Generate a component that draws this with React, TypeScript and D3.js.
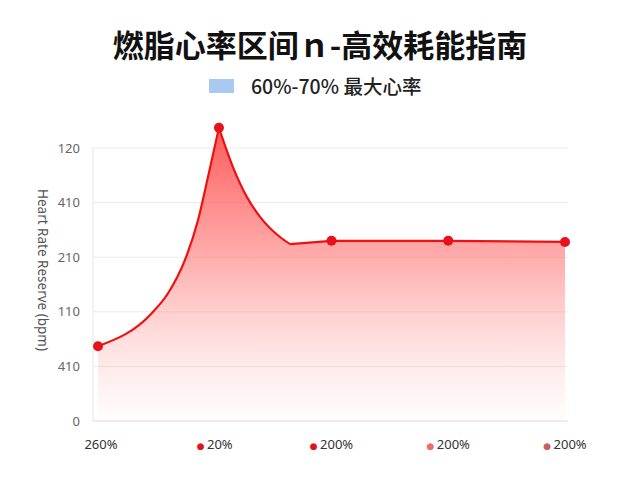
import * as d3 from "d3";

// x positions are category units (0..4), y values in the chart's own units
const pointX = [0, 0.463, 0.6, 0.745, 0.857, 0.942, 1.036, 1.156, 1.276, 1.388, 1.559, 1.645, 2, 3, 4];
const pointY = [137, 198, 234, 295, 368, 447, 537, 465, 410, 374, 337, 324, 330, 330, 328];
const markerIndex = [0, 6, 12, 13, 14];
const peakIndex = 6;
const kinkIndex = 11;

const xLabels = ["260%", "20%", "200%", "200%", "200%"];
const xDotColors = ["none", "#e0141b", "#e0141b", "#ef6b6b", "#c9605a"];
const yTicks = [0, 100, 200, 300, 400, 500];
const yTickLabels = ["0", "410", "110", "210", "410", "120"];

const title = "燃脂心率区间ｎ-高效耗能指南";
const legendLabel = "60%-70% 最大心率";
const yTitle = "Heart Rate Reserve (bpm)";

function App() {
  const width = 640;
  const height = 480;
  const left = 93;
  const right = 568;
  const top = 148;
  const bottom = 421;

  const x = d3.scaleLinear().domain([0, 4]).range([98, 565]);
  const y = d3.scaleLinear().domain([0, 500]).range([bottom, top]);

  const pts: [number, number][] = pointX.map((d, i) => [d, pointY[i]]);
  const rising = pts.slice(0, peakIndex + 1);
  const falling = pts.slice(peakIndex, kinkIndex + 1);
  const flat = pts.slice(kinkIndex);

  const smooth = d3
    .line<[number, number]>()
    .x((d) => x(d[0]))
    .y((d) => y(d[1]))
    .curve(d3.curveMonotoneX);
  const straight = d3
    .line<[number, number]>()
    .x((d) => x(d[0]))
    .y((d) => y(d[1]));
  const risingPath = smooth(rising) ?? "";
  const fallingPath = smooth(falling) ?? "";
  const flatPath = straight(flat) ?? "";

  // area: stitch the three segments and close down to baseline
  const areaPath =
    risingPath +
    fallingPath.replace(/^M[^CL]*/, "") +
    flatPath.replace(/^M[^L]*/, "") +
    `L${x(4)},${y(0)}L${x(0)},${y(0)}Z`;

  const font = "'Noto Sans', 'DejaVu Sans', sans-serif";
  const cjk = "'Noto Sans CJK SC', 'Noto Sans', sans-serif";

  return (
    <svg
      width={width}
      height={height}
      style={{ position: "fixed", left: 0, top: 0, background: "#fff" }}
    >
      <defs>
        <linearGradient
          id="fillGrad"
          gradientUnits="userSpaceOnUse"
          x1={0}
          y1={y(537)}
          x2={0}
          y2={y(0)}
        >
          <stop offset="0%" stopColor="#ff3b3b" stopOpacity={0.85} />
          <stop offset="45%" stopColor="#ff6b6b" stopOpacity={0.55} />
          <stop offset="100%" stopColor="#ffb0b0" stopOpacity={0.03} />
        </linearGradient>
      </defs>

      <text
        x={320}
        y={57}
        textAnchor="middle"
        fontFamily={cjk}
        fontWeight={700}
        fontSize={31}
        fill="#111"
      >
        {title}
      </text>

      <rect x={209} y={79} width={25} height={14} fill="#a9c9f2" />
      <text
        x={251}
        y={94}
        fontFamily={cjk}
        fontWeight={500}
        fontSize={19.5}
        fill="#222"
      >
        {legendLabel}
      </text>

      <g>
        {yTicks.map((t) => (
          <line
            key={t}
            x1={left}
            x2={right}
            y1={y(t)}
            y2={y(t)}
            stroke={t === 0 ? "#dcdcdc" : "#ececec"}
            strokeWidth={1}
          />
        ))}
        <line x1={left} x2={left} y1={top} y2={bottom} stroke="#e6e6e6" />
        {yTicks.map((t, i) => (
          <text
            key={t}
            x={80}
            y={y(t) + 4.5}
            textAnchor="end"
            fontFamily={font}
            fontSize={13}
            fill="#666"
          >
            {yTickLabels[i]}
          </text>
        ))}
      </g>

      <text
        transform={`translate(38,270) rotate(90)`}
        textAnchor="middle"
        fontFamily={font}
        fontSize={13.5}
        fill="#555"
      >
        {yTitle}
      </text>

      <path d={areaPath} fill="url(#fillGrad)" />
      <path d={risingPath} fill="none" stroke="#ee1111" strokeWidth={2.2} />
      <path d={fallingPath} fill="none" stroke="#ee1111" strokeWidth={2.2} />
      <path d={flatPath} fill="none" stroke="#ee1111" strokeWidth={2.2} />

      {markerIndex.map((i) => (
        <circle
          key={i}
          cx={x(pointX[i])}
          cy={y(pointY[i])}
          r={5}
          fill="#e8101a"
        />
      ))}

      {xLabels.map((label, i) => (
        <text
          key={i}
          x={x(i) + (i === 0 ? 3 : 0)}
          y={449}
          textAnchor="middle"
          fontFamily={font}
          fontSize={13}
          fill="#333"
        >
          {xDotColors[i] !== "none" && (
            <tspan fill={xDotColors[i]} fontSize={9}>
              {"● "}
            </tspan>
          )}
          {label}
        </text>
      ))}
    </svg>
  );
}

export default App;
